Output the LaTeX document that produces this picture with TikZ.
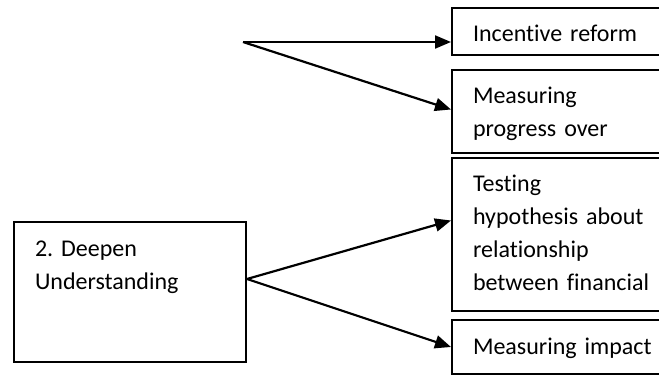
\documentclass[tikz,border=0pt]{standalone}
\usepackage{fontspec}
\setmainfont{Carlito}[Ligatures=NoCommon]
\usepackage{tikz}
\usetikzlibrary{arrows.meta}
\frenchspacing

\begin{document}
\begin{tikzpicture}[x=1pt,y=-1pt,
  box/.style={draw,line width=2pt,anchor=north west,inner xsep=21pt,inner ysep=0pt,
    text width=190pt,align=left,text height=34pt,font=\fontsize{24}{33}\selectfont},
  arr/.style={line width=2.2pt,-{Triangle[length=16pt,width=13pt]}}]
\useasboundingbox (0,0) rectangle (659,377);
\clip (0,0) rectangle (659,377);
\node[box,text depth=106pt] (deep) at (13,221) {2. Deepen\\Understanding};
\node[box,text depth=13pt] (incentive) at (451,7) {Incentive reform};
\node[box,text depth=49pt] (progress) at (451,69) {Measuring\\progress over};
\node[box,text depth=119pt] (testing) at (451,157) {Testing\\hypothesis about\\relationship\\between financial};
\node[box,text depth=20pt] (impact) at (451,319) {Measuring impact};
\coordinate (split) at (243,42);
\draw[arr] (split) -- (incentive.west |- split);
\draw[arr] (split) -- ([yshift=2pt]progress.west);
\draw[arr] ([yshift=13pt]deep.east) -- ([yshift=14pt]testing.west);
\draw[arr] ([yshift=13pt]deep.east) -- (impact.west);
\end{tikzpicture}
\end{document}
